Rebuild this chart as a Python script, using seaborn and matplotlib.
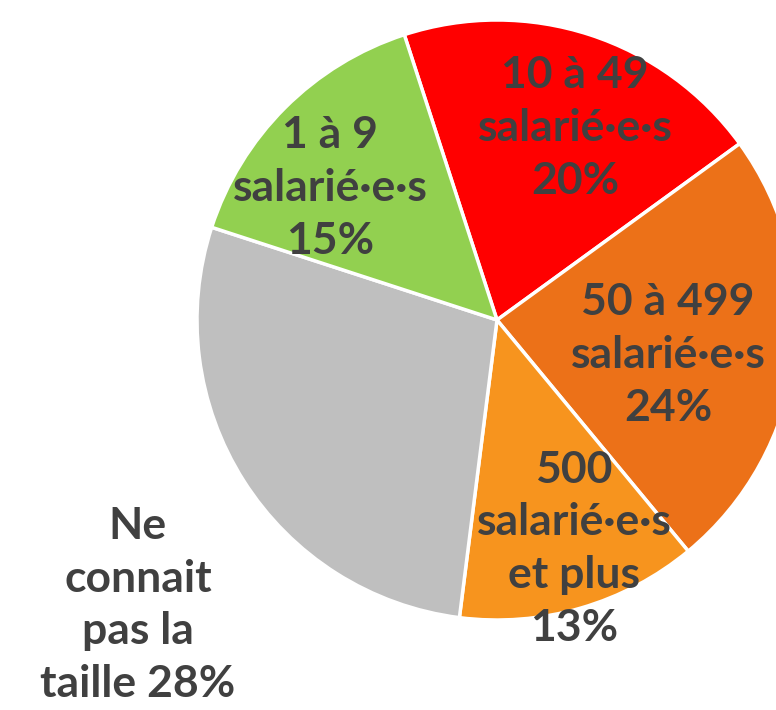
import matplotlib
matplotlib.use("Agg")
import matplotlib.pyplot as plt
import seaborn as sns

sns.set_theme(style="white")
plt.rcParams['font.family'] = ['Lato', 'DejaVu Sans']

categories = ["10 à 49\nsalarié·e·s", "50 à 499\nsalarié·e·s", "500\nsalarié·e·s\net plus",
              "Ne\nconnait\npas la\ntaille", "1 à 9\nsalarié·e·s"]
values = [20, 24, 13, 28, 15]
colors = ["#FF0000", "#EC7118", "#F7941E", "#BFBFBF", "#92D050"]
# label centres in pie units (radius = 1)
label_pos = [(0.26, 0.64), (0.57, -0.117), (0.257, -0.763), (-1.197, -0.95), (-0.557, 0.44)]

fig = plt.figure(figsize=(7.76, 7.10), dpi=100)
ax = fig.add_axes([0, 0, 1, 1])
wedges, _ = ax.pie(values, colors=colors, startangle=108, counterclock=False,
                   radius=1.0, wedgeprops=dict(edgecolor="white", linewidth=2.5))

for cat, v, (x, y) in zip(categories, values, label_pos):
    if cat.startswith("Ne"):
        txt = "Ne\nconnait\npas la\ntaille %d%%" % v
    else:
        txt = "%s\n%d%%" % (cat, v)
    ax.text(x, y, txt, ha="center", va="center", multialignment="center",
            fontsize=32, fontweight="bold", color="#404040", linespacing=1.39)

ax.set_xlim(-497 / 300, (776 - 497) / 300)
ax.set_ylim(-(710 - 320) / 300, 320 / 300)
ax.set_aspect("auto")
ax.axis("off")
fig.savefig("out.png", dpi=100)
